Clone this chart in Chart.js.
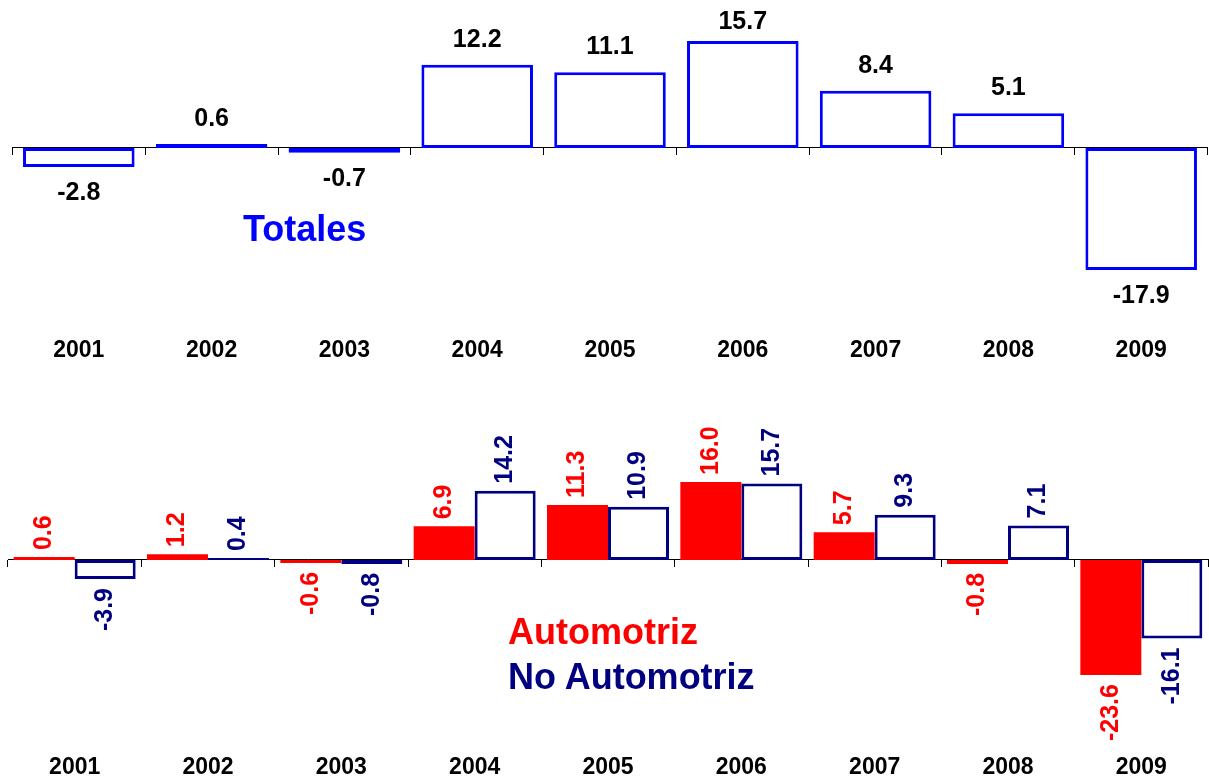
<!DOCTYPE html>
<html>
<head>
<meta charset="utf-8">
<script src="https://cdn.jsdelivr.net/npm/chart.js@4/dist/chart.umd.min.js"></script>
<style>
  html, body { margin: 0; padding: 0; background: #fff; overflow: hidden; }
  body { width: 1209px; height: 778px; position: relative; font-family: 'Liberation Sans', Arial, sans-serif; }
  canvas { position: absolute; left: 0; }
  #topChart { top: 0; }
  #bottomChart { top: 378px; }
  .legend { position: absolute; font-weight: bold; font-size: 36px; line-height: 40px; white-space: nowrap; }
</style>
</head>
<body>
<canvas id="topChart" width="1220" height="375"></canvas>
<canvas id="bottomChart" width="1220" height="400"></canvas>
<div class="legend" style="left:243px; top:209px; color:#0000FF;">Totales</div>
<div class="legend" style="left:508px; top:612px; color:#FF0000;">Automotriz</div>
<div class="legend" style="left:508px; top:657px; color:#000080;">No Automotriz</div>

<script>
// Data
const years = ['2001', '2002', '2003', '2004', '2005', '2006', '2007', '2008', '2009'];
const totales = [-2.8, 0.6, -0.7, 12.2, 11.1, 15.7, 8.4, 5.1, -17.9];
const automotriz = [0.6, 1.2, -0.6, 6.9, 11.3, 16.0, 5.7, -0.8, -23.6];
const noAutomotriz = [-3.9, 0.4, -0.8, 14.2, 10.9, 15.7, 9.3, 7.1, -16.1];

const FONT = "'Liberation Sans', Arial, sans-serif";

// Value labels above / below each bar
const valueLabels = {
    id: 'valueLabels',
    afterDatasetsDraw(chart, args, opts) {
        const ctx = chart.ctx;
        chart.data.datasets.forEach((ds, i) => {
            const meta = chart.getDatasetMeta(i);
            meta.data.forEach((bar, j) => {
                const v = ds.data[j];
                const txt = v.toFixed(1);
                ctx.save();
                ctx.fillStyle = ds.labelColor || '#000';
                ctx.font = 'bold 25px ' + FONT;
                if (opts.rotate) {
                    ctx.translate(bar.x, v >= 0 ? bar.y - 7 : bar.y + 9);
                    ctx.rotate(-Math.PI / 2);
                    ctx.textAlign = v >= 0 ? 'left' : 'right';
                    ctx.textBaseline = 'middle';
                    ctx.fillText(txt, 0, 0);
                } else {
                    ctx.textAlign = 'center';
                    ctx.textBaseline = 'middle';
                    // keep the tallest label inside the canvas
                    const ty = v >= 0 ? Math.max(bar.y - 25, 22) : bar.y + 26;
                    ctx.fillText(txt, bar.x, ty);
                }
                ctx.restore();
            });
        });
    }
};

function buildScales(yMin, yMax, axisHeight, labelPadding) {
    return {
        x: {
            type: 'category',
            position: 'bottom',
            offset: true,
            grid: { display: false, drawTicks: false },
            border: { display: false },
            ticks: {
                color: '#000',
                padding: labelPadding,
                maxRotation: 0,
                autoSkip: false,
                font: { family: FONT, size: 23, weight: 'bold' }
            },
            afterFit(axis) { axis.height = axisHeight; }
        },
        // zero line with tick marks between the years
        x2: {
            type: 'category',
            axis: 'x',
            position: { y: 0 },
            offset: true,
            grid: { offset: true, drawOnChartArea: false, drawTicks: true, tickLength: 7, color: '#000', lineWidth: 1 },
            border: { display: true, color: '#000', width: 1 },
            ticks: { display: false }
        },
        y: { display: false, min: yMin, max: yMax }
    };
}

// 1. Totales
new Chart(document.getElementById('topChart'), {
    type: 'bar',
    data: {
        labels: years,
        datasets: [{
            data: totales,
            backgroundColor: '#FFFFFF',
            borderColor: '#0000FF',
            borderWidth: 3,
            borderSkipped: false,
            labelColor: '#000000',
            barPercentage: 0.84,
            categoryPercentage: 1.0
        }]
    },
    options: {
        responsive: false,
        animation: false,
        layout: { padding: { left: 12, right: 8, top: 0, bottom: 0 } },
        plugins: {
            legend: { display: false },
            tooltip: { enabled: false },
            valueLabels: { rotate: false }
        },
        scales: buildScales(-20, 21.7, 90.6, 52.8)
    },
    plugins: [valueLabels]
});

// 2. Automotriz / No Automotriz
new Chart(document.getElementById('bottomChart'), {
    type: 'bar',
    data: {
        labels: years,
        datasets: [{
            data: automotriz,
            backgroundColor: '#FF0000',
            borderWidth: 0,
            labelColor: '#FF0000',
            barPercentage: 1.0,
            categoryPercentage: 0.915
        }, {
            data: noAutomotriz,
            backgroundColor: '#FFFFFF',
            borderColor: '#000080',
            borderWidth: 3,
            borderSkipped: false,
            labelColor: '#000080',
            barPercentage: 1.0,
            categoryPercentage: 0.915
        }]
    },
    options: {
        responsive: false,
        animation: false,
        layout: { padding: { left: 8, right: 12, top: 0, bottom: 0 } },
        plugins: {
            legend: { display: false },
            tooltip: { enabled: false },
            valueLabels: { rotate: true }
        },
        scales: buildScales(-30, 37.33, 71.75, 47.95)
    },
    plugins: [valueLabels]
});
</script>
</body>
</html>
